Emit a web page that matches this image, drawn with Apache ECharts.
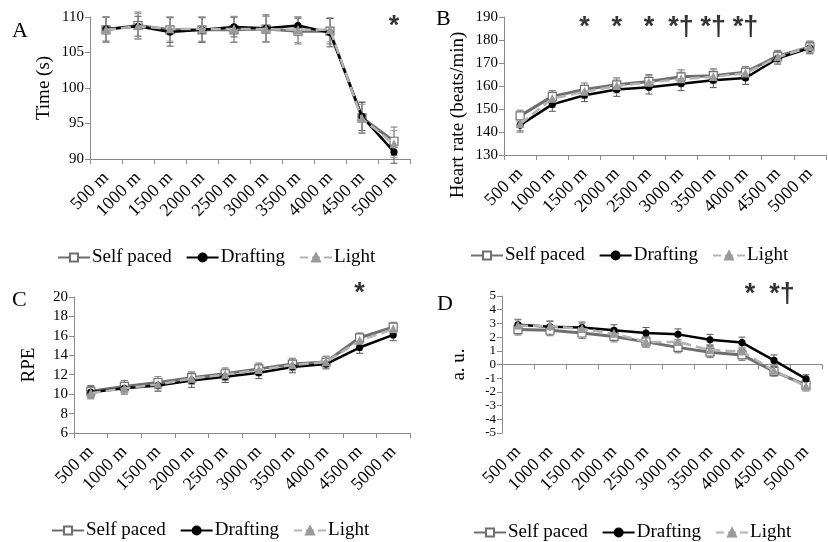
<!DOCTYPE html>
<html><head><meta charset="utf-8">
<script src="https://cdn.jsdelivr.net/npm/echarts@6/dist/echarts.min.js"></script>
<style>html,body{margin:0;padding:0;background:#fff}#c{width:828px;height:542px}</style>
</head><body><div id="c"></div>
<script>
var categories = ['500 m','1000 m','1500 m','2000 m','2500 m','3000 m','3500 m','4000 m','4500 m','5000 m'];
var seriesNames = ['Self paced','Drafting','Light'];

// Panel A: Time (s)
var timeSelf = [108.2,108.8,108.2,108.2,108.2,108.3,108.0,108.0,95.8,92.5];
var timeDraft = [108.3,108.7,107.9,108.2,108.6,108.4,108.8,107.8,96.0,91.0];
var timeLight = [108.2,108.7,108.3,108.3,108.3,108.3,108.2,108.2,95.7,92.1];
var timeSelfErr = [1.8,1.9,1.8,1.8,1.8,1.8,1.8,1.8,2.2,2.0];
var timeDraftErr = [1.7,1.4,2.0,1.7,1.4,1.9,1.2,2.0,2.0,1.6];
var timeLightErr = [1.8,1.8,1.7,1.7,1.8,1.8,1.8,1.7,2.0,1.9];

// Panel B: Heart rate (beats/min)
var hrSelf = [147,155.5,158.5,160.5,162,164,164.5,166,173,177];
var hrDraft = [143,152,156,158.5,159.5,161,162.5,163.5,172,176.5];
var hrLight = [143.5,154.5,157.5,160,161.5,163,164,165.5,172.5,177];
var hrSelfErr = [2.5,2.5,2.8,3,3,3,3,2.5,2.5,2.5];
var hrDraftErr = [3,3,2.8,3,3,3,3.2,2.8,2.5,2.5];
var hrLightErr = [2.8,2.8,2.8,3,3,3,3,2.8,2.5,2.5];

// Panel C: RPE
var rpeSelf = [10.3,10.8,11.2,11.7,12.1,12.6,13.1,13.3,15.8,16.9];
var rpeDraft = [10.2,10.6,10.9,11.4,11.8,12.2,12.8,13.1,14.8,16.1];
var rpeLight = [10.1,10.6,11.0,11.6,12.0,12.5,13.0,13.3,15.5,16.7];
var rpeSelfErr = [0.6,0.6,0.6,0.6,0.6,0.6,0.6,0.6,0.5,0.5];
var rpeDraftErr = [0.6,0.6,0.6,0.7,0.6,0.6,0.6,0.5,0.6,0.6];
var rpeLightErr = [0.6,0.6,0.6,0.6,0.6,0.6,0.6,0.6,0.5,0.5];

// Panel D: a. u.
var auSelf = [2.55,2.5,2.3,2.05,1.65,1.25,0.9,0.7,-0.5,-1.5];
var auDraft = [2.9,2.75,2.7,2.5,2.3,2.2,1.8,1.6,0.3,-1.05];
var auLight = [2.85,2.8,2.6,2.25,1.65,1.65,1.05,0.95,-0.45,-1.6];
var auSelfErr = [0.4,0.4,0.4,0.4,0.4,0.4,0.4,0.4,0.35,0.35];
var auDraftErr = [0.4,0.4,0.4,0.4,0.4,0.4,0.4,0.4,0.4,0.3];
var auLightErr = [0.4,0.4,0.4,0.4,0.4,0.4,0.4,0.4,0.4,0.35];

// Significance markers
var annA = [['5000 m','*']];
var annB = [['1500 m','*'],['2000 m','*'],['2500 m','*'],['3000 m','*†'],['3500 m','*†'],['4000 m','*†']];
var annC = [['4500 m','*']];
var annD = [['4000 m','*'],['4500 m','*†']];

var panels = [
  {letter:'A', name:'Time (s)', min:90, max:110, interval:5, data:[timeSelf,timeDraft,timeLight], err:[timeSelfErr,timeDraftErr,timeLightErr], ann:annA, annY:109.3, annDx:0,
   grid:{left:90,top:17,width:320,height:142}, legend:{left:52,top:243}, nameGap:36, namePad:[0,0,0,0], letterPos:[12,20], yFont:15},
  {letter:'B', name:'Heart rate (beats/min)', min:130, max:190, interval:10, data:[hrSelf,hrDraft,hrLight], err:[hrSelfErr,hrDraftErr,hrLightErr], ann:annB, annY:187.8, annDx:0,
   grid:{left:504,top:17,width:322,height:138}, legend:{left:465,top:241}, nameGap:36, namePad:[0,58,0,0], letterPos:[436,8], yFont:15},
  {letter:'C', name:'RPE', min:6, max:20, interval:2, data:[rpeSelf,rpeDraft,rpeLight], err:[rpeSelfErr,rpeDraftErr,rpeLightErr], ann:annC, annY:20.9, annDx:0,
   grid:{left:74,top:297,width:336,height:136}, legend:{left:46,top:516}, nameGap:35, namePad:[0,0,0,0], letterPos:[12,289], yFont:15},
  {letter:'D', name:'a. u.', min:-5, max:5, interval:1, data:[auSelf,auDraft,auLight], err:[auSelfErr,auDraftErr,auLightErr], ann:annD, annY:5.45, annDx:8,
   grid:{left:502,top:296,width:320,height:137}, legend:{left:468,top:518}, nameGap:33, namePad:[0,0,0,0], letterPos:[437,293], yFont:13}
];

var styles = [
  {color:'#6e6e6e', width:3, type:'solid', symbol:'rect', size:8, fill:'#ffffff', border:'#6e6e6e', err:'#777777'},
  {color:'#000000', width:2.5, type:'solid', symbol:'circle', size:6, fill:'#000000', border:'#000000', err:'#555555'},
  {color:'#b4b4b4', width:2.5, type:'dashed', symbol:'triangle', size:7, fill:'#9a9a9a', border:'#9a9a9a', err:'#999999'}
];

var font = '"Liberation Serif", "Times New Roman", serif';
var grids=[], xAxes=[], yAxes=[], series=[], legends=[], graphics=[];

panels.forEach(function(p, pi){
  grids.push(p.grid);
  xAxes.push({type:'category', gridIndex:pi, data:categories, boundaryGap:true,
    axisLine:{lineStyle:{color:'#8a8a8a', width:1}},
    axisTick:{show:true, length:5, lineStyle:{color:'#8a8a8a'}},
    axisLabel:{interval:0, rotate:45, fontFamily:font, fontSize:18, color:'#000', margin:16}});
  yAxes.push({type:'value', gridIndex:pi, min:p.min, max:p.max, interval:p.interval,
    name:p.name, nameLocation:'middle', nameGap:p.nameGap,
    nameTextStyle:{fontFamily:font, fontSize:19, color:'#000', padding:p.namePad},
    axisLine:{show:true, lineStyle:{color:'#8a8a8a', width:1}},
    axisTick:{show:true, length:5, lineStyle:{color:'#8a8a8a'}},
    splitLine:{show:false},
    axisLabel:{fontFamily:font, fontSize:p.yFont, lineHeight:p.yFont, color:'#000', margin:6, showMinLabel:true, showMaxLabel:true, hideOverlap:false}});
  legends.push({left:p.legend.left, top:p.legend.top, data:seriesNames, itemWidth:32, itemHeight:10, itemGap:14,
    textStyle:{fontFamily:font, fontSize:19, color:'#000', padding:[0,0,0,-3]}});
  graphics.push({type:'text', left:p.letterPos[0], top:p.letterPos[1], style:{text:p.letter, font:'22px "Liberation Serif", serif', fill:'#000'}});

  // error bars
  p.data.forEach(function(vals, si){
    var st = styles[si];
    var errData = vals.map(function(v,i){ return [i, v - p.err[si][i], v + p.err[si][i]]; });
    series.push({type:'custom', xAxisIndex:pi, yAxisIndex:pi, silent:true, z:1,
      data:errData,
      renderItem:function(params, api){
        var x = api.value(0);
        var lo = api.coord([x, api.value(1)]);
        var hi = api.coord([x, api.value(2)]);
        var w = 3.5;
        var s = {stroke:st.err, lineWidth:1};
        return {type:'group', children:[
          {type:'line', shape:{x1:hi[0],y1:hi[1],x2:lo[0],y2:lo[1]}, style:s},
          {type:'line', shape:{x1:hi[0]-w,y1:hi[1],x2:hi[0]+w,y2:hi[1]}, style:s},
          {type:'line', shape:{x1:lo[0]-w,y1:lo[1],x2:lo[0]+w,y2:lo[1]}, style:s}
        ]};
      }});
  });
  // lines
  p.data.forEach(function(vals, si){
    var st = styles[si];
    series.push({type:'line', name:seriesNames[si], xAxisIndex:pi, yAxisIndex:pi, data:vals, z:3+si,
      symbol:st.symbol, symbolSize:st.size, showSymbol:true,
      lineStyle:{color:st.color, width:st.width, type:st.type},
      itemStyle:{color:st.fill, borderColor:st.border, borderWidth:1.2},
      emphasis:{disabled:true}, animation:false});
  });
  // annotations
  series.push({type:'scatter', xAxisIndex:pi, yAxisIndex:pi, symbol:'circle', symbolSize:1, silent:true, z:10, clip:false,
    itemStyle:{color:'rgba(0,0,0,0)'},
    data:p.ann.map(function(a){ return {value:[a[0], p.annY], name:a[1]}; }),
    label:{show:true, position:'inside', offset:[p.annDx,5], formatter:function(d){return d.name;},
      fontFamily:'"Liberation Sans", Arial, sans-serif', fontWeight:'bold', fontSize:27, color:'#000'}});
});

var chart = echarts.init(document.getElementById('c'), null, {renderer:'canvas'});
chart.setOption({
  animation:false,
  backgroundColor:'#fff',
  grid:grids, xAxis:xAxes, yAxis:yAxes, legend:legends, series:series, graphic:graphics,
  color:styles.map(function(s){return s.color;})
});
</script></body></html>
